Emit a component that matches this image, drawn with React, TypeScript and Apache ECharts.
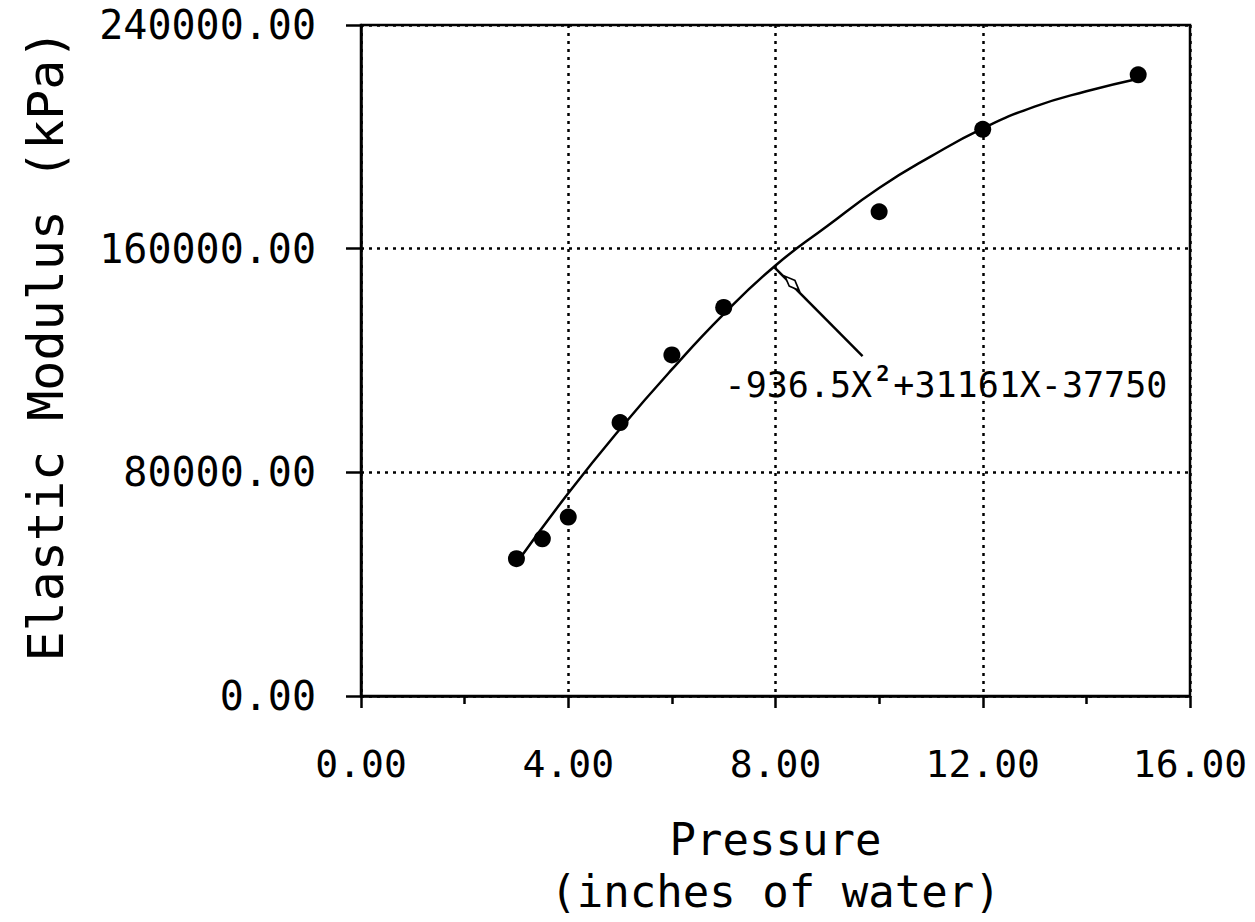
import React, { useEffect, useRef } from "react";
import * as echarts from "echarts";

const pressure = [3, 3.5, 4, 5, 6, 7, 10, 12, 15];
const modulus = [49100, 56200, 64000, 97800, 122000, 139000, 173200, 202700, 222200];

const fitX = [3, 4, 5, 6, 7, 8, 9, 10, 11, 12, 13, 14, 15];
const fitY = [47500, 72500, 95500, 116800, 136600, 154000, 168100, 181700, 193000, 203000, 210800, 216300, 220800];

const xTicks = { min: 0, max: 16, interval: 4 };
const yTicks = { min: 0, max: 240000, interval: 80000 };

const annotationStart = [7.98, 153300];
const annotationEnd = [9.68, 121600];
const arrowHead = [8.32, 147600];
const equationAt = [11.29, 111300];
const equationParts = ["-936.5X", "2", "+31161X-37750"];

const FONT = "'DejaVu Sans Mono', monospace";

export default function App() {
  const ref = useRef<HTMLDivElement>(null);
  useEffect(() => {
    if (!ref.current) return;
    const chart = echarts.init(ref.current, null, { renderer: "svg" });
    chart.setOption({
      animation: false,
      backgroundColor: "#fff",
      grid: {
        left: 361,
        right: 65,
        top: 25,
        bottom: 222,
        show: true,
        borderColor: "#000",
        borderWidth: 2.5,
      },
      xAxis: {
        type: "value",
        min: xTicks.min,
        max: xTicks.max,
        interval: xTicks.interval,
        name: "Pressure\n(inches of water)",
        nameLocation: "middle",
        nameGap: 117,
        nameTextStyle: { fontFamily: FONT, fontSize: 44, lineHeight: 52, color: "#000" },
        axisLine: { show: true, lineStyle: { color: "#000", width: 2.5 } },
        axisTick: { show: true, length: 12, lineStyle: { color: "#000", width: 2.5 } },
        minorTick: { show: true, splitNumber: 2, length: 8, lineStyle: { color: "#000", width: 2.5 } },
        axisLabel: {
          margin: 47,
          fontFamily: FONT,
          fontSize: 38,
          lineHeight: 42,
          color: "#000",
          formatter: (v: number) => v.toFixed(2),
        },
        splitLine: { show: true, lineStyle: { color: "#000", width: 2.5, type: [3, 5] } },
      },
      yAxis: {
        type: "value",
        min: yTicks.min,
        max: yTicks.max,
        interval: yTicks.interval,
        name: "Elastic Modulus (kPa)",
        nameLocation: "middle",
        nameRotate: 90,
        nameGap: 290,
        nameTextStyle: { fontFamily: FONT, fontSize: 50, color: "#000", padding: [0, 0, 0, 30] },
        axisLine: { show: true, lineStyle: { color: "#000", width: 2.5 } },
        axisTick: { show: true, length: 15, lineStyle: { color: "#000", width: 2.5 } },
        axisLabel: {
          margin: 45,
          fontFamily: FONT,
          fontSize: 40,
          color: "#000",
          formatter: (v: number) => v.toFixed(2),
        },
        splitLine: { show: true, lineStyle: { color: "#000", width: 2.5, type: [3, 5] } },
      },
      series: [
        {
          type: "line",
          data: fitX.map((x, i) => [x, fitY[i]]),
          smooth: true,
          showSymbol: false,
          symbol: "none",
          lineStyle: { color: "#000", width: 2.5 },
          z: 3,
          markLine: {
            silent: true,
            symbol: ["none", "none"],
            lineStyle: { color: "#000", width: 2.5, type: "solid" },
            label: { show: false },
            data: [[{ coord: annotationStart }, { coord: annotationEnd }]],
          },
          markPoint: {
            silent: true,
            data: [
              {
                coord: arrowHead,
                symbol: "diamond",
                symbolSize: [8, 20],
                symbolRotate: 45,
                itemStyle: { color: "#fff", borderColor: "#000", borderWidth: 2 },
                label: { show: false },
              },
              {
                coord: equationAt,
                symbol: "rect",
                symbolSize: 1,
                itemStyle: { color: "rgba(0,0,0,0)" },
                label: {
                  show: true,
                  position: "inside",
                  formatter: `{a|${equationParts[0]}}{s|${equationParts[1]}}{a|${equationParts[2]}}`,
                  rich: {
                    a: { fontFamily: FONT, fontSize: 35, color: "#000" },
                    s: {
                      fontFamily: FONT,
                      fontSize: 22,
                      fontWeight: "bold",
                      color: "#000",
                      verticalAlign: "top",
                      padding: [0, 4, 22, 4],
                    },
                  },
                },
              },
            ],
          },
        },
        {
          type: "scatter",
          data: pressure.map((x, i) => [x, modulus[i]]),
          symbol: "circle",
          symbolSize: 17,
          itemStyle: { color: "#000", opacity: 1 },
          z: 4,
        },
      ],
    });
    return () => chart.dispose();
  }, []);
  return <div ref={ref} style={{ width: 1255, height: 922, position: "absolute", left: 0, top: 0 }} />;
}
